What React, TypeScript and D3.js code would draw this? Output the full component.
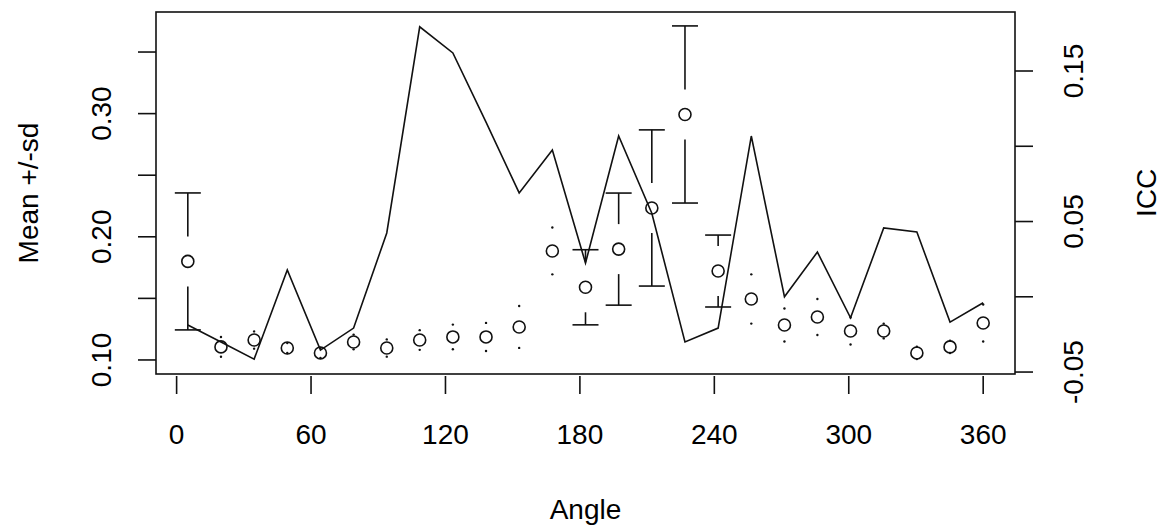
import React, {useEffect, useRef} from 'react';
import * as d3 from 'd3';

// angle of each measurement (deg)
const angles = [5, 19.8, 34.6, 49.4, 64.2, 79.0, 93.8, 108.5, 123.3, 138.1, 152.9, 167.7, 182.5,
    197.3, 212.1, 226.9, 241.7, 256.5, 271.3, 286.0, 300.8, 315.6, 330.4, 345.2, 360];
// mean and sd (left axis)
const meanVals = [0.180, 0.1106, 0.1162, 0.1097, 0.1057, 0.1146, 0.1097, 0.1162, 0.1187, 0.1187, 0.1268, 0.1885, 0.159,
    0.190, 0.2234, 0.2993, 0.1722, 0.1495, 0.1284, 0.1349, 0.1235, 0.1235, 0.1057, 0.1106, 0.130];
const sdVals = [0.0556, 0.008, 0.007, 0.004, 0.004, 0.006, 0.007, 0.008, 0.010, 0.0114, 0.017, 0.019, 0.0305,
    0.0455, 0.0634, 0.0719, 0.0292, 0.0200, 0.0134, 0.0146, 0.011, 0.006, 0.005, 0.005, 0.015];
// ICC (right axis)
const iccVals = [-0.0188, -0.030, -0.0414, 0.0178, -0.0354, -0.0208, 0.0424, 0.1794, 0.162, 0.116, 0.069, 0.0975, 0.0224,
    0.1068, 0.0555, -0.030, -0.0208, 0.1068, 0.0, 0.0297, -0.014, 0.0457, 0.043, -0.0168, -0.004];

const xTicks = [0, 60, 120, 180, 240, 300, 360];
const leftTicks = [0.10, 0.15, 0.20, 0.25, 0.30, 0.35];
const leftTickLabels = ['0.10', '', '0.20', '', '0.30', ''];
const rightTicks = [-0.05, 0, 0.05, 0.10, 0.15];
const rightTickLabels = ['-0.05', '', '0.05', '', '0.15'];

const App = () => {
    const ref = useRef<SVGSVGElement>(null);

    useEffect(() => {
        drawChart();
    }, []);

    function drawChart() {
        var left = 156, right = 1015, top = 12, bottom = 374;
        var font = "'Liberation Sans', Arial, sans-serif";
        var fs = 28;

        var svg = d3.select(ref.current);
        svg.selectAll("*").remove();

        var x = d3.scaleLinear().domain([-9.2, 374.2]).range([left, right]);
        var yl = d3.scaleLinear().domain([0.0886, 0.3825]).range([bottom, top]);
        var yr = d3.scaleLinear().domain([-0.0513, 0.1892]).range([bottom, top]);

        var g = svg.append("g")
            .attr("stroke", "#111")
            .attr("fill", "none")
            .attr("stroke-width", 1.6);

        // ICC line
        g.append("path")
            .datum(angles)
            .attr("d", d3.line<number>()
                .x(function (d) { return x(d) })
                .y(function (d, i) { return yr(iccVals[i]) }));

        // mean +/- sd with gap round the point
        var gap = 25, cap = 13;
        angles.forEach(function (a, i) {
            var cx = x(a), cy = yl(meanVals[i]);
            var hi = yl(meanVals[i] + sdVals[i]), lo = yl(meanVals[i] - sdVals[i]);
            g.append("circle").attr("cx", cx).attr("cy", cy).attr("r", 6);
            if (cy - hi > gap) {
                g.append("line").attr("x1", cx).attr("x2", cx).attr("y1", hi).attr("y2", cy - gap);
                g.append("line").attr("x1", cx - cap).attr("x2", cx + cap).attr("y1", hi).attr("y2", hi);
                g.append("line").attr("x1", cx).attr("x2", cx).attr("y1", lo).attr("y2", cy + gap);
                g.append("line").attr("x1", cx - cap).attr("x2", cx + cap).attr("y1", lo).attr("y2", lo);
            } else {
                // zero length arrows -> dots
                g.append("circle").attr("cx", cx).attr("cy", hi).attr("r", 1.2).attr("fill", "#111").attr("stroke", "none");
                g.append("circle").attr("cx", cx).attr("cy", lo).attr("r", 1.2).attr("fill", "#111").attr("stroke", "none");
            }
        });

        // box
        g.append("rect")
            .attr("x", left).attr("y", top)
            .attr("width", right - left).attr("height", bottom - top);

        // bottom axis
        xTicks.forEach(function (t) {
            g.append("line").attr("x1", x(t)).attr("x2", x(t)).attr("y1", bottom + 2).attr("y2", bottom + 20);
        });
        svg.selectAll(".xl").data(xTicks).enter().append("text")
            .attr("x", function (d) { return x(d) })
            .attr("y", 444)
            .attr("text-anchor", "middle")
            .attr("font-family", font).attr("font-size", fs)
            .text(function (d) { return d });

        // left axis
        leftTicks.forEach(function (t) {
            g.append("line").attr("x1", left - 18).attr("x2", left).attr("y1", yl(t)).attr("y2", yl(t));
        });
        leftTicks.forEach(function (t, i) {
            if (!leftTickLabels[i]) return;
            svg.append("text")
                .attr("transform", "translate(111," + yl(t) + ") rotate(-90)")
                .attr("text-anchor", "middle")
                .attr("font-family", font).attr("font-size", fs)
                .text(leftTickLabels[i]);
        });

        // right axis
        rightTicks.forEach(function (t) {
            g.append("line").attr("x1", right).attr("x2", right + 18).attr("y1", yr(t)).attr("y2", yr(t));
        });
        rightTicks.forEach(function (t, i) {
            if (!rightTickLabels[i]) return;
            svg.append("text")
                .attr("transform", "translate(1083," + yr(t) + ") rotate(-90)")
                .attr("text-anchor", "middle")
                .attr("font-family", font).attr("font-size", fs)
                .text(rightTickLabels[i]);
        });

        // axis titles
        var mid = (top + bottom) / 2;
        svg.append("text")
            .attr("x", (left + right) / 2).attr("y", 519)
            .attr("text-anchor", "middle")
            .attr("font-family", font).attr("font-size", fs)
            .text("Angle");
        svg.append("text")
            .attr("transform", "translate(38," + mid + ") rotate(-90)")
            .attr("text-anchor", "middle")
            .attr("font-family", font).attr("font-size", fs)
            .text("Mean +/-sd");
        svg.append("text")
            .attr("transform", "translate(1156," + mid + ") rotate(-90)")
            .attr("text-anchor", "middle")
            .attr("font-family", font).attr("font-size", fs)
            .text("ICC");
    }

    return (
        <svg ref={ref} width={1171} height={531}
             style={{position: "absolute", left: 0, top: 0, background: "#fff"}}/>
    );
}
export default App;
